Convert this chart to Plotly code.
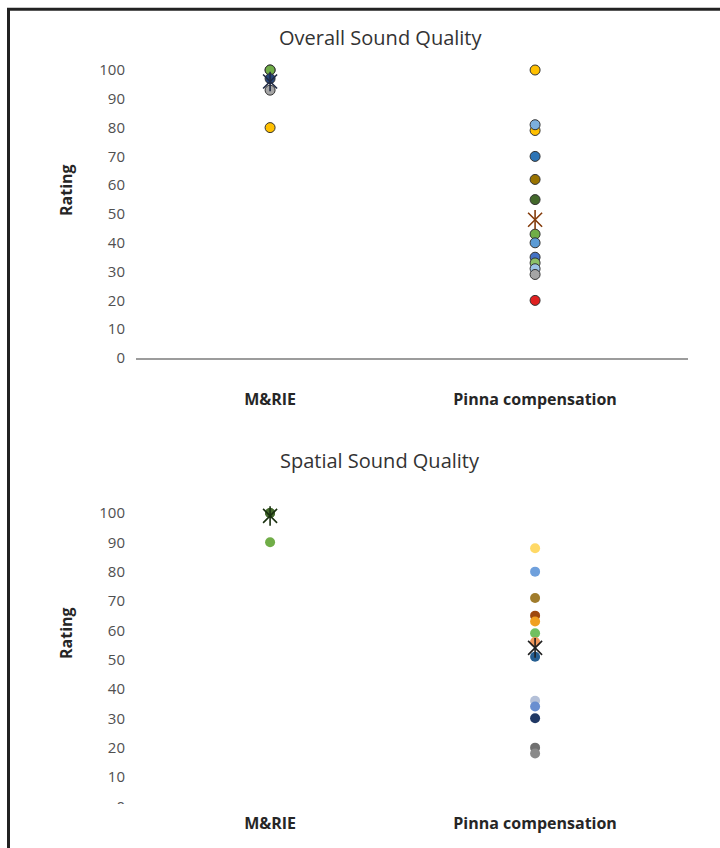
import plotly.graph_objects as go

# ---------------- data ----------------
categories = ["M&RIE", "Pinna compensation"]
y_ticks = [0, 10, 20, 30, 40, 50, 60, 70, 80, 90, 100]

overall_title = "Overall Sound Quality"
spatial_title = "Spatial Sound Quality"
y_label = "Rating"

overall_mrie = [100, 100, 97, 93, 80]
overall_pinna = [100, 79, 81, 70, 62, 55, 43, 40, 35, 33, 31, 29, 20]
overall_avg = [96, 48]

spatial_mrie = [100, 100, 90]
spatial_pinna = [88, 80, 71, 65, 63, 59, 56, 51, 36, 34, 30, 20, 18]
spatial_avg = [99, 54]

# ---------------- styles ----------------
overall_mrie_colors = ["#4472C4", "#70AD47", "#264478", "#A5A5A5", "#FFC000"]
overall_pinna_colors = ["#FFC000", "#FFC000", "#7CAFDD", "#2E75B6", "#997300", "#43682B",
                        "#70AD47", "#5B9BD5", "#4472C4", "#8CC168", "#9DC3E6", "#A5A5A5", "#E02020"]
overall_avg_colors = ["#1F2A44", "#843C0C"]

spatial_mrie_colors = ["#43682B", "#43682B", "#70AD47"]
spatial_pinna_colors = ["#FFD966", "#6FA0DC", "#A07C2C", "#9E480E", "#F0A020", "#70C060",
                        "#F1975A", "#255E91", "#B4C0D8", "#698ED0", "#203864", "#707070", "#8A8A8A"]
spatial_avg_colors = ["#1A3010", "#202020"]

W, H = 720, 848          # reference frame
FIG_H = 857              # page height that maps onto the 848 px frame
def px_x(v):
    return v / W
def px_y(v):
    return 1 - v / H

FONT = "Open Sans"
x_range = [-0.506, 1.577]

fig = go.Figure()

def add_points(vals, cat, cols, xa, ya, outline):
    fig.add_trace(go.Scatter(
        x=[cat] * len(vals), y=vals, mode="markers",
        marker=dict(color=cols, size=10, symbol="circle",
                    line=dict(color="#333333" if outline else "rgba(0,0,0,0)", width=1 if outline else 0)),
        xaxis=xa, yaxis=ya, showlegend=False, hoverinfo="x+y"))

def add_avg(vals, cols, xa, ya):
    for sym in ["x-thin-open", "line-ns-open"]:
        fig.add_trace(go.Scatter(
            x=categories, y=vals, mode="markers",
            marker=dict(symbol=sym, size=14, color=cols, line=dict(color=cols, width=1.6)),
            xaxis=xa, yaxis=ya, showlegend=False, hoverinfo="x+y"))

# top chart
add_points(overall_mrie, categories[0], overall_mrie_colors, "x", "y", True)
add_points(overall_pinna, categories[1], overall_pinna_colors, "x", "y", True)
add_avg(overall_avg, overall_avg_colors, "x", "y")

# bottom chart
add_points(spatial_mrie, categories[0], spatial_mrie_colors, "x2", "y2", False)
add_points(spatial_pinna, categories[1], spatial_pinna_colors, "x2", "y2", False)
add_avg(spatial_avg, spatial_avg_colors, "x2", "y2")

# domains
top_y0, top_y100 = 358, 70
top_unit = (top_y0 - top_y100) / 100
top_max = 105
top_dom = [px_y(top_y0), px_y(top_y0 - top_max * top_unit)]

bot_y0, bot_y100 = 806.3, 513
bot_unit = (bot_y0 - bot_y100) / 100
bot_max = 104
bot_dom = [px_y(bot_y0), px_y(bot_y0 - bot_max * bot_unit)]

x_dom = [px_x(136), px_x(688)]

tickfont = dict(family=FONT, size=15, color="#505050")
catfont = dict(family=FONT, size=16, color="#262626", weight="bold")

common_x = dict(type="category", categoryarray=categories, range=x_range, domain=x_dom,
                showgrid=False, zeroline=False, ticks="", tickfont=catfont, fixedrange=True)
common_y = dict(showgrid=False, zeroline=False, ticks="", tickvals=y_ticks,
                tickfont=tickfont, ticklabelstandoff=10, fixedrange=True)

def ann(text, x, y, size, color, angle=0):
    return dict(text=text, x=px_x(x), y=px_y(y), xref="paper", yref="paper",
                xanchor="center", yanchor="middle", showarrow=False, textangle=angle,
                font=dict(family=FONT, size=size, color=color))

fig.update_layout(
    width=W, height=FIG_H, autosize=False,
    margin=dict(l=0, r=0, t=0, b=0),
    paper_bgcolor="white", plot_bgcolor="white",
    font=dict(family=FONT),
    xaxis=dict(common_x, anchor="y", showline=True, linecolor="#9c9c9c", linewidth=1.5,
               ticklabelstandoff=26),
    yaxis=dict(common_y, anchor="x", domain=top_dom, range=[0, top_max], showline=False),
    xaxis2=dict(common_x, anchor="y2", showline=False, ticklabelstandoff=6),
    yaxis2=dict(common_y, anchor="x2", domain=bot_dom, range=[0, bot_max], showline=False),
    annotations=[
        ann(overall_title, 380, 38, 20, "#333333"),
        ann(spatial_title, 380, 460, 20, "#333333"),
        ann("<b>" + y_label + "</b>", 66, 190, 16, "#262626", -90),
        ann("<b>" + y_label + "</b>", 66, 633, 16, "#262626", -90),
    ],
    shapes=[
        # border (left and top)
        dict(type="line", xref="paper", yref="paper", x0=px_x(8.5), x1=px_x(8.5), y0=px_y(8), y1=0,
             line=dict(color="#222222", width=3), layer="above"),
        dict(type="line", xref="paper", yref="paper", x0=px_x(7), x1=1, y0=px_y(9.3), y1=px_y(9.3),
             line=dict(color="#222222", width=3), layer="above"),
        # clipped bottom of lower chart's "0" label
        dict(type="rect", xref="paper", yref="paper", x0=px_x(95), x1=px_x(130),
             y0=px_y(804), y1=px_y(815), fillcolor="white", line=dict(width=0), layer="above"),
    ],
)

fig.write_html("out.html",
               config={"responsive": False, "displayModeBar": False},
               post_script="document.body.style.margin='0';document.body.style.overflow='hidden';")
